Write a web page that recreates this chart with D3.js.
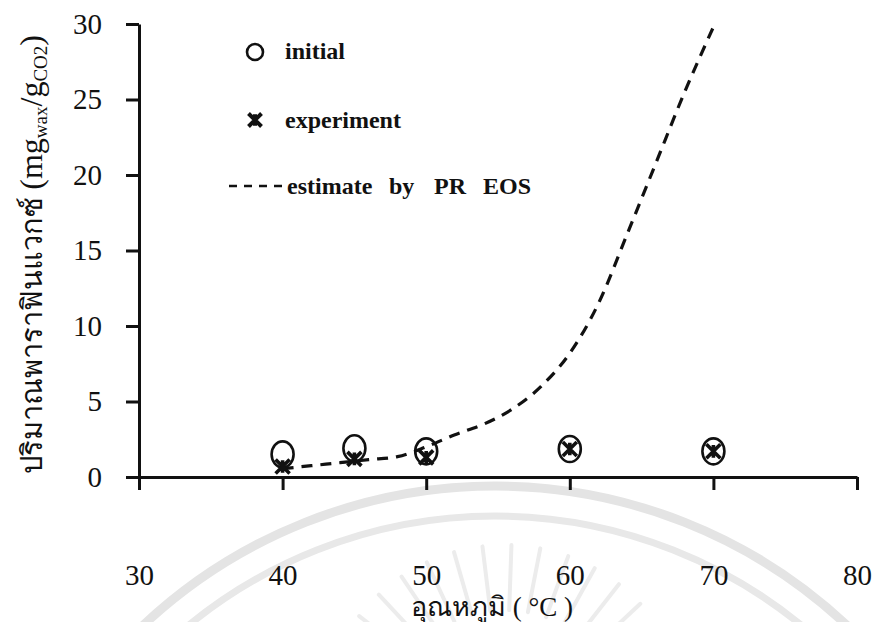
<!DOCTYPE html>
<html>
<head>
<meta charset="utf-8">
<script src="https://cdn.jsdelivr.net/npm/d3@7"></script>
<style>
  body { margin: 0; background: #fff; }
  text { font-family: "Liberation Serif", "Times New Roman", serif; fill: #111; }
  .legend text { font-weight: bold; font-size: 24px; }
</style>
</head>
<body>
<div id="chart"></div>
<script>
const width = 874
const height = 622
const margin = { top: 24, bottom: 145, left: 139, right: 17 }

// ข้อมูลจากกราฟ
const xTicks = [30, 40, 50, 60, 70, 80]
const yTicks = [0, 5, 10, 15, 20, 25, 30]
const temps = [40, 45, 50, 60, 70]
const initial = [1.5, 1.9, 1.7, 1.85, 1.7]
const experiment = [0.7, 1.2, 1.3, 1.85, 1.7]
const prTemp = [40, 42, 44, 46, 48, 50, 52, 54, 56, 58, 60, 62, 64, 66, 68, 70]
const prEos = [0.55, 0.75, 0.95, 1.15, 1.35, 2.0, 2.8, 3.5, 4.5, 6.0, 8.2, 11.5, 16.1, 20.8, 25.5, 29.8]

const svg = d3.select("div#chart").append("svg").attr("width", width).attr("height", height)

// ลายน้ำ
const wm = svg.append("g").attr("id", "watermark").attr("transform", "translate(495, 1000)")
wm.append("circle").attr("r", 514).attr("fill", "none").attr("stroke", "#e4e4e4").attr("stroke-width", 9)
wm.append("circle").attr("r", 484).attr("fill", "none").attr("stroke", "#e8e8e8").attr("stroke-width", 7)
const rays = svg.append("g").attr("transform", "translate(505, 730)")
d3.range(-160, -15, 9).forEach(a => {
    const r = a * Math.PI / 180
    rays.append("line")
        .attr("x1", 120 * Math.cos(r)).attr("y1", 120 * Math.sin(r))
        .attr("x2", 185 * Math.cos(r)).attr("y2", 185 * Math.sin(r))
        .attr("stroke", "#ececec").attr("stroke-width", 4).attr("stroke-linecap", "round")
})

const innerW = width - margin.left - margin.right
const innerH = height - margin.top - margin.bottom

const x = d3.scaleLinear().domain([30, 80]).range([0, innerW])
const y = d3.scaleLinear().domain([0, 30]).range([innerH, 0])

const xAxis = d3.axisBottom(x).tickValues(xTicks).tickSize(13).tickSizeOuter(0).tickPadding(74)
const yAxis = d3.axisLeft(y).tickValues(yTicks).tickSize(13).tickSizeOuter(0).tickPadding(24)

const xAxisGroup = svg.append("g").attr("transform", `translate(${margin.left}, ${margin.top + innerH})`).call(xAxis)
const yAxisGroup = svg.append("g").attr("transform", `translate(${margin.left}, ${margin.top})`).call(yAxis)

for (const g of [xAxisGroup, yAxisGroup]) {
    g.selectAll("path, line").attr("stroke", "#111").attr("stroke-width", 3)
    g.selectAll("text").attr("font-family", "Liberation Serif").attr("font-size", 29).attr("fill", "#111")
}

const elementGroup = svg.append("g").attr("transform", `translate(${margin.left}, ${margin.top})`)

// เส้นประ PR EOS
const line = d3.line().x((d, i) => x(prTemp[i])).y(d => y(d)).curve(d3.curveMonotoneX)
elementGroup.append("path").datum(prEos)
    .attr("d", line)
    .attr("fill", "none")
    .attr("stroke", "#111")
    .attr("stroke-width", 3.2)
    .attr("stroke-dasharray", "11,8")

const star = s => `M${-s},${-s}L${s},${s}M${-s},${s}L${s},${-s}M0,${-s * 0.9}L0,${s * 0.9}`

elementGroup.selectAll("ellipse.initial").data(initial).enter().append("ellipse")
    .attr("class", "initial")
    .attr("cx", (d, i) => x(temps[i]))
    .attr("cy", d => y(d))
    .attr("rx", 11)
    .attr("ry", 13)
    .attr("fill", "none")
    .attr("stroke", "#111")
    .attr("stroke-width", 2.6)

elementGroup.selectAll("path.exp").data(experiment).enter().append("path")
    .attr("class", "exp")
    .attr("transform", (d, i) => `translate(${x(temps[i])}, ${y(d)})`)
    .attr("d", star(7))
    .attr("stroke", "#111")
    .attr("stroke-width", 3.6)
    .attr("fill", "none")

// คำอธิบาย
const legend = svg.append("g").attr("class", "legend")
legend.append("circle").attr("cx", 255).attr("cy", 52).attr("r", 8).attr("fill", "none").attr("stroke", "#111").attr("stroke-width", 2.6)
legend.append("text").attr("x", 285).attr("y", 59).text("initial")
legend.append("path").attr("transform", "translate(255, 120)").attr("d", star(6.5))
    .attr("stroke", "#111").attr("stroke-width", 4).attr("fill", "none")
legend.append("text").attr("x", 285).attr("y", 128).text("experiment")
legend.append("line").attr("x1", 229).attr("x2", 285).attr("y1", 186).attr("y2", 186)
    .attr("stroke", "#111").attr("stroke-width", 2.5).attr("stroke-dasharray", "8,7")
const est = legend.append("text").attr("y", 194)
est.append("tspan").attr("x", 287).text("estimate")
est.append("tspan").attr("x", 389).text("by")
est.append("tspan").attr("x", 434).text("PR")
est.append("tspan").attr("x", 483).text("EOS")

// ชื่อแกน
const yLabel = svg.append("text")
    .attr("transform", `translate(42, ${margin.top + innerH / 2 + 4}) rotate(-90)`)
    .attr("text-anchor", "middle")
    .attr("font-size", 29)
yLabel.append("tspan").text("ปริมาณพาราฟินแวกซ์ ")
yLabel.append("tspan").attr("font-size", 32).text("(mg")
yLabel.append("tspan").attr("font-size", 19).attr("dy", 5).text("wax")
yLabel.append("tspan").attr("font-size", 32).attr("dy", -5).text("/g")
yLabel.append("tspan").attr("font-size", 19).attr("dy", 5).text("CO2")
yLabel.append("tspan").attr("font-size", 32).attr("dy", -5).text(")")

svg.append("text")
    .attr("x", 492).attr("y", 616)
    .attr("text-anchor", "middle")
    .attr("font-size", 27)
    .text("อุณหภูมิ ( °C )")
</script>
</body>
</html>
